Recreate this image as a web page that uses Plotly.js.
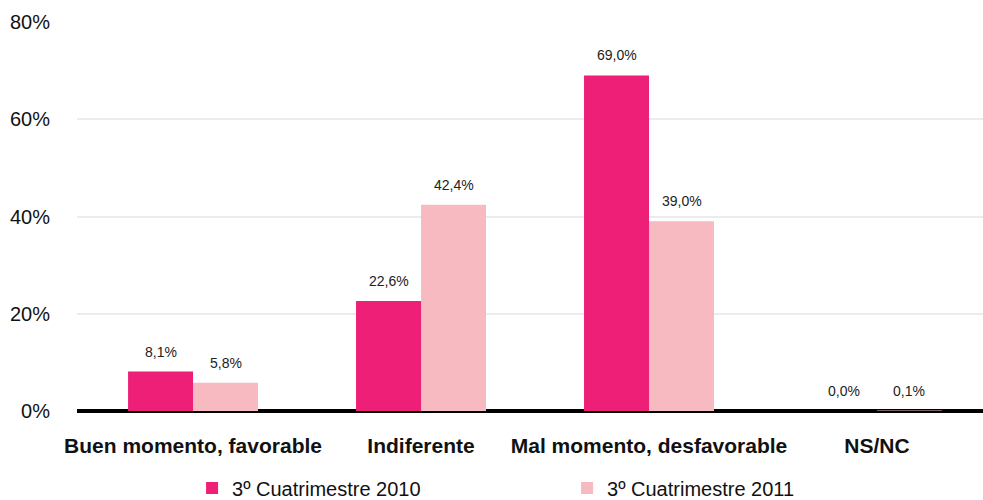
<!DOCTYPE html>
<html>
<head>
<meta charset="utf-8">
<script src="https://cdn.plot.ly/plotly-3.0.1.min.js"></script>
<style>html,body{margin:0;padding:0;background:#fff;}#chart{width:983px;height:500px;}</style>
</head>
<body>
<div id="chart"></div>
<script>
const categories = ["Buen momento, favorable", "Indiferente", "Mal momento, desfavorable", "NS/NC"];
const series2010 = [8.1, 22.6, 69.0, 0.0];
const series2011 = [5.8, 42.4, 39.0, 0.1];
const seriesNames = ["3º Cuatrimestre 2010", "3º Cuatrimestre 2011"];
const yTicks = [0, 20, 40, 60, 80];
const colors = ["#EE1F77", "#F7BAC0"];

function fmt(v) { return v.toFixed(1).replace(".", ",") + "%"; }

const traces = [series2010, series2011].map((vals, i) => ({
  type: "bar",
  x: categories,
  y: vals,
  name: seriesNames[i],
  marker: { color: colors[i] },
  hoverinfo: "skip"
}));

const annotations = [];
[series2010, series2011].forEach((vals, i) => {
  vals.forEach((v, j) => {
    annotations.push({
      x: categories[j], y: v, xref: "x", yref: "y",
      text: fmt(v), showarrow: false,
      xshift: i === 0 ? -32.5 : 32.5, yshift: 20,
      font: { family: "Liberation Sans, Arial, sans-serif", size: 14, color: "#222" }
    });
  });
});

const layout = {
  width: 983, height: 500,
  margin: { l: 77, r: 0, t: 22, b: 89, autoexpand: false },
  paper_bgcolor: "#fff", plot_bgcolor: "#fff",
  barmode: "group", bargap: 0.43, bargroupgap: 0,
  font: { family: "Liberation Sans, Arial, sans-serif", color: "#111" },
  xaxis: {
    type: "category", automargin: false, range: [-0.509, 3.465],
    showgrid: false, showline: false, zeroline: false,
    ticks: "outside", ticklen: 16, tickcolor: "rgba(0,0,0,0)",
    tickfont: { size: 21, color: "#111", weight: "bold" }
  },
  yaxis: {
    range: [0, 80], tickvals: yTicks, ticktext: yTicks.map(t => t + "%"),
    automargin: false,
    showgrid: true, gridcolor: "#ececec", gridwidth: 2,
    zeroline: true, zerolinecolor: "#000", zerolinewidth: 4,
    showline: false, ticks: "outside", ticklen: 22, tickcolor: "rgba(0,0,0,0)",
    tickfont: { size: 20, color: "#111" }
  },
  showlegend: true,
  legend: {
    orientation: "h", x: 0.127, xanchor: "left", y: -0.148, yanchor: "top",
    entrywidth: 330, entrywidthmode: "pixels",
    font: { size: 20, color: "#111" }, itemclick: false
  },
  annotations: annotations
};

Plotly.newPlot("chart", traces, layout, { displayModeBar: false, staticPlot: true });
</script>
</body>
</html>
